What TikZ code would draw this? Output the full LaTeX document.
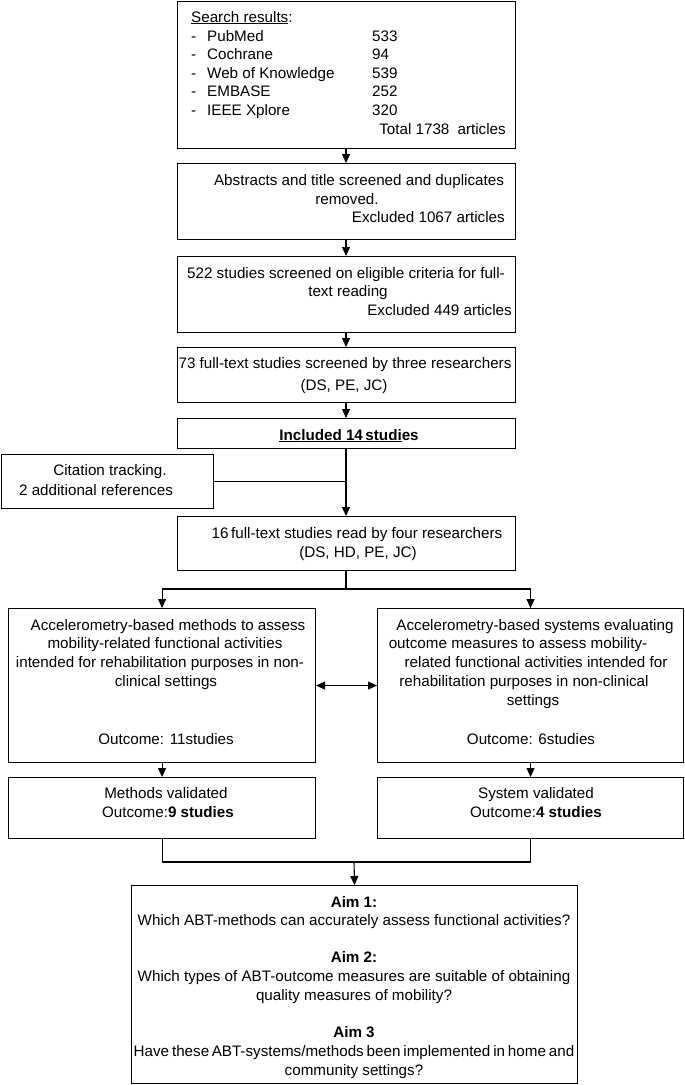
\documentclass[tikz,border=0pt]{standalone}
\usepackage{fontspec}
\setmainfont{Liberation Sans}
\usetikzlibrary{arrows.meta}
\newcommand\myfs{\fontsize{15.2}{18}\selectfont}
\tikzset{
  box/.style={draw, line width=1.1pt, inner sep=0pt, anchor=north west},
  txt/.style={inner sep=0pt, anchor=base, font=\myfs},
  txtl/.style={txt, anchor=base west},
  txtr/.style={txt, anchor=base east},
  conn/.style={line width=1.1pt},
  arr/.style={conn, -{Triangle[length=9pt,width=8pt]}},
  arrtwo/.style={conn, {Triangle[length=9pt,width=8pt]}-{Triangle[length=9pt,width=8pt]}}
}
\begin{document}
\begin{tikzpicture}[x=1pt,y=-1pt]
\useasboundingbox (0,0) rectangle (685,1085);
% boxes
\node[box, minimum width=338pt, minimum height=147pt] (b1) at (177,1) {};
\node[box, minimum width=338pt, minimum height=76pt] (b2) at (177,163) {};
\node[box, minimum width=338pt, minimum height=76pt] (b3) at (177,256) {};
\node[box, minimum width=338pt, minimum height=55pt] (b4) at (177,347) {};
\node[box, minimum width=338pt, minimum height=30pt] (b5) at (177,418) {};
\node[box, minimum width=212pt, minimum height=54pt] (cit) at (1,454) {};
\node[box, minimum width=338pt, minimum height=54pt] (b6) at (177,516) {};
\node[box, minimum width=307pt, minimum height=154pt] (L) at (8,608) {};
\node[box, minimum width=306pt, minimum height=154pt] (R) at (377,608) {};
\node[box, minimum width=307pt, minimum height=61pt] (Lv) at (8,777) {};
\node[box, minimum width=306pt, minimum height=61pt] (Rv) at (377,777) {};
\node[box, minimum width=446pt, minimum height=198pt] (aim) at (131,885) {};
% connectors
\coordinate (sp) at (346,0);
\coordinate (j1) at (346,589);
\coordinate (j2) at (354,862);
\draw[arr] (b1.south -| sp) -- (b2.north -| sp);
\draw[arr] (b2.south -| sp) -- (b3.north -| sp);
\draw[arr] (b3.south -| sp) -- (b4.north -| sp);
\draw[arr] (b4.south -| sp) -- (b5.north -| sp);
\draw[arr] (b5.south -| sp) -- (b6.north -| sp);
\draw[conn] (cit.east) -- (cit.east -| sp);
\draw[conn] (b6.south -| sp) -- (j1);
\draw[arr] (j1) -| (L.north);
\draw[arr] (j1) -| (R.north);
\draw[arrtwo] (L.east) -- (R.west);
\draw[arr] (L.south) -- (Lv.north);
\draw[arr] (R.south) -- (Rv.north);
\draw[conn] (Lv.south) |- (j2) -| (Rv.south);
\draw[arr] (j2) -- (aim.north);
% box 1 text
\node[txtl] (s0) at (191,22) {\underline{Search results}:};
\node[txtl] (d1) at (191,41) {-};
\node[txtl] (d2) at (191,59.5) {-};
\node[txtl] (d3) at (191,78) {-};
\node[txtl] (d4) at (191,96.5) {-};
\node[txtl] (d5) at (191,115) {-};
\node[txtl] (n1) at (207,41) {PubMed};
\node[txtl] (n2) at (207,59.5) {Cochrane};
\node[txtl] (n3) at (207,78) {Web of Knowledge};
\node[txtl] (n4) at (207,96.5) {EMBASE};
\node[txtl] (n5) at (207,115) {IEEE Xplore};
\node[txtl] (v1) at (372,41) {533};
\node[txtl] (v2) at (372,59.5) {94};
\node[txtl] (v3) at (372,78) {539};
\node[txtl] (v4) at (372,96.5) {252};
\node[txtl] (v5) at (372,115) {320};
\node[txtr] (tot) at (506,134) {Total 1738\hspace{4pt} articles};
% box 2
\node[txt] (t2a) at (359,185) {Abstracts and title screened and duplicates};
\node[txt] (t2b) at (347,204) {removed.};
\node[txtr] (t2c) at (505,222) {Excluded 1067 articles};
% box 3
\node[txt] (t3a) at (346,278) {522 studies screened on eligible criteria for full-};
\node[txt] (t3b) at (348,296) {text reading};
\node[txtr] (t3c) at (512,315) {Excluded 449 articles};
% box 4
\node[txt] (t4a) at (345,368) {73 full-text studies screened by three researchers};
\node[txt] (t4b) at (344,390) {(DS, PE, JC)};
% box 5
\node[txt] (t5) at (349,440) {\bfseries\underline{Included 14\,studi}es};
% citation
\node[txt] (c1) at (110,475) {Citation tracking.};
\node[txt] (c2) at (96,495) {2 additional references};
% box 6
\node[txt] (t6a) at (357,538) {16\,full-text studies read by four researchers};
\node[txt] (t6b) at (358,557) {(DS, HD, PE, JC)};
% left big
\node[txt] (l1) at (168,630) {Accelerometry-based methods to assess};
\node[txt] (l2) at (165,648.5) {mobility-related functional activities};
\node[txt] (l3) at (160,667) {intended for rehabilitation purposes in non-};
\node[txt] (l4) at (166,686) {clinical settings};
\node[txt] (l5) at (166,744) {Outcome: 11studies};
% right big
\node[txt] (r1) at (535,630) {Accelerometry-based systems evaluating};
\node[txt] (r2) at (518,648.5) {outcome measures to assess mobility-};
\node[txt] (r3) at (536,667) {related functional activities intended for};
\node[txt] (r4) at (524,686) {rehabilitation purposes in non-clinical};
\node[txt] (r5) at (533,705) {settings};
\node[txt] (r6) at (531,744) {Outcome: 6studies};
% validated
\node[txt] (lv1) at (166,798) {Methods validated};
\node[txt] (lv2) at (168,817) {Outcome:\textbf{9 studies}};
\node[txt] (rv1) at (536,798) {System validated};
\node[txt] (rv2) at (536,817) {Outcome:\textbf{4 studies}};
% aims
\node[txt] (a1) at (354,907) {\textbf{Aim 1:}};
\node[txt] (a2) at (354,925) {Which ABT-methods can accurately assess functional activities?};
\node[txt] (a3) at (354,962) {\textbf{Aim 2:}};
\node[txt] (a4) at (354,981) {Which types of ABT-outcome measures are suitable of obtaining};
\node[txt] (a5) at (354,1000) {quality measures of mobility?};
\node[txt] (a6) at (354,1037) {\textbf{Aim 3}};
\node[txt] (a7) at (354,1056) {\spaceskip=0.19em Have these\,ABT-systems/methods been implemented in home and};
\node[txt] (a8) at (354,1075) {community settings?};
\end{tikzpicture}
\end{document}
